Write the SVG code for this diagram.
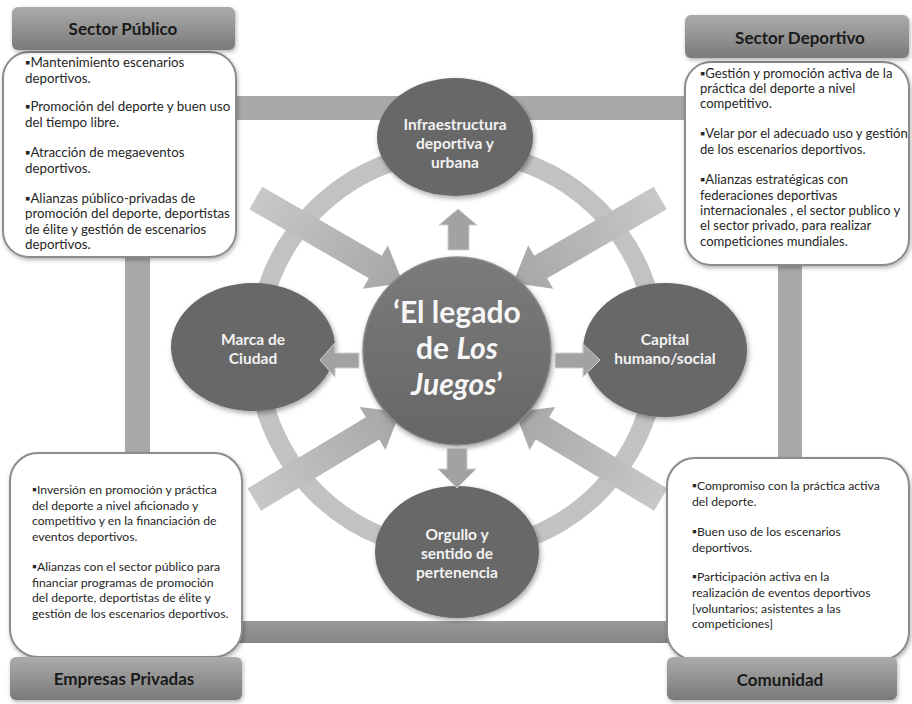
<svg xmlns="http://www.w3.org/2000/svg" width="912" height="704" viewBox="0 0 912 704" xml:space="preserve">
<style>
.body{font-family:Lato,"Liberation Sans",sans-serif;font-size:12.6px;fill:#262626}
.tl{font-size:13.3px}
.tr{font-size:13.1px}
.bl{font-size:12.2px}
.br{font-size:12.2px}
.hdr{font-family:Lato,"Liberation Sans",sans-serif;font-size:17px;font-weight:bold;fill:#1a1a1a;text-anchor:middle}
.sat{font-family:Lato,"Liberation Sans",sans-serif;font-size:15.5px;font-weight:bold;fill:#f2f2f2;text-anchor:middle}
.ctr{font-family:Lato,"Liberation Sans",sans-serif;font-size:30px;font-weight:bold;fill:#f7f7f7;text-anchor:middle}
.box{fill:#ffffff;stroke:#8c8c8c;stroke-width:2}
.hbox{fill:url(#hg)}
.ell{fill:#676767}
.sarr{fill:#a2a2a2;stroke:#cfcfcf;stroke-width:1}
.barr{fill:url(#ag)}
.bar{fill:#a9a9a9}
</style>
<defs>
<linearGradient id="hg" x1="0" y1="0" x2="0" y2="1">
<stop offset="0" stop-color="#ababab"/>
<stop offset="1" stop-color="#7a7a7a"/>
</linearGradient>
<linearGradient id="cg" x1="0" y1="0" x2="0" y2="1">
<stop offset="0" stop-color="#7b7b7b"/>
<stop offset="1" stop-color="#666666"/>
</linearGradient>
<linearGradient id="ag" x1="0" y1="0" x2="1" y2="0">
<stop offset="0" stop-color="#c8c8c8"/>
<stop offset="1" stop-color="#a6a6a6"/>
</linearGradient>
<linearGradient id="bg" x1="0" y1="0" x2="0" y2="1">
<stop offset="0" stop-color="#9a9a9a"/>
<stop offset="1" stop-color="#858585"/>
</linearGradient>
<filter id="sh" x="-20%" y="-20%" width="140%" height="140%">
<feDropShadow dx="1.5" dy="2.5" stdDeviation="2.5" flood-color="#000" flood-opacity="0.35"/>
</filter>
<filter id="sh2" x="-20%" y="-20%" width="140%" height="140%">
<feDropShadow dx="1" dy="2" stdDeviation="2" flood-color="#000" flood-opacity="0.3"/>
</filter>
</defs>
<rect width="912" height="704" fill="#ffffff"/>

<g id="connectors">
<g id="frame">
<rect class="bar" x="140" y="96" width="650" height="24"/>
<rect class="bar" x="125" y="110" width="25" height="520"/>
<rect class="bar" x="778" y="110" width="24" height="520"/>
<rect x="125" y="621" width="677" height="22" fill="url(#bg)"/>
</g>
<circle cx="457" cy="351" r="200" fill="none" stroke="#c2c2c2" stroke-width="19"/>
<g id="big-arrows">
<polygon class="barr" transform="translate(403,283) rotate(30)" points="-170,-13 -32,-13 -32,-25 0,0 -32,25 -32,13 -170,13"/>
<polygon class="barr" transform="translate(513,283) rotate(150)" points="-170,-13 -32,-13 -32,-25 0,0 -32,25 -32,13 -170,13"/>
<polygon class="barr" transform="translate(400,412) rotate(-31)" points="-170,-13 -32,-13 -32,-25 0,0 -32,25 -32,13 -170,13"/>
<polygon class="barr" transform="translate(515,412) rotate(-149)" points="-170,-13 -32,-13 -32,-25 0,0 -32,25 -32,13 -170,13"/>
</g>
</g>

<g id="infraestructura">
<ellipse class="ell" cx="455" cy="137" rx="78" ry="59" filter="url(#sh)"/>
<text class="sat" x="455" y="130">Infraestructura</text>
<text class="sat" x="455" y="149">deportiva y</text>
<text class="sat" x="455" y="168">urbana</text>
</g>
<g id="marca">
<ellipse class="ell" cx="253" cy="347" rx="82" ry="64" filter="url(#sh)"/>
<text class="sat" x="253" y="345">Marca de</text>
<text class="sat" x="253" y="364">Ciudad</text>
</g>
<g id="capital">
<ellipse class="ell" cx="665" cy="350" rx="82" ry="67" filter="url(#sh)"/>
<text class="sat" x="665" y="345">Capital</text>
<text class="sat" x="665" y="364">humano/social</text>
</g>
<g id="orgullo">
<ellipse class="ell" cx="457" cy="552" rx="82" ry="66" filter="url(#sh)"/>
<text class="sat" x="457" y="540">Orgullo y</text>
<text class="sat" x="457" y="559">sentido de</text>
<text class="sat" x="457" y="578">pertenencia</text>
</g>
<g id="legado">
<circle cx="457" cy="351" r="94" fill="url(#cg)" stroke="#8a8a8a" stroke-width="1.5" filter="url(#sh)"/>
<text class="ctr" x="457" y="323">‘El legado</text>
<text class="ctr" x="457" y="359">de <tspan font-style="italic">Los</tspan></text>
<text class="ctr" x="457" y="395"><tspan font-style="italic">Juegos</tspan>’</text>
</g>

<g id="small-arrows">
<polygon class="sarr" points="448,250 448,225 439,225 458,209 477,225 469,225 469,250"/>
<polygon class="sarr" points="359,353 335,353 335,343 320,360 335,377 335,368 359,368"/>
<polygon class="sarr" points="555,353 583,353 583,344 600,360 583,377 583,368 555,368"/>
<polygon class="sarr" points="447,448 467,448 467,469 476,469 457,488 438,469 447,469"/>
</g>

<g id="sector-publico">
<rect class="box" x="3" y="52" width="233" height="205" rx="26" filter="url(#sh2)"/>
<rect class="hbox" x="12" y="7" width="223" height="43" rx="6" filter="url(#sh2)"/>
<text class="hdr" x="123" y="35">Sector Público</text>
<text class="body tl" x="25" y="67">▪Mantenimiento escenarios</text>
<text class="body tl" x="25" y="83">deportivos.</text>
<text class="body tl" x="25" y="111">▪Promoción del deporte y buen uso</text>
<text class="body tl" x="25" y="127">del tiempo libre.</text>
<text class="body tl" x="25" y="157">▪Atracción de megaeventos</text>
<text class="body tl" x="25" y="173">deportivos.</text>
<text class="body tl" x="25" y="203">▪Alianzas  público-privadas de</text>
<text class="body tl" x="25" y="218">promoción del deporte, deportistas</text>
<text class="body tl" x="25" y="234">de élite y gestión de escenarios</text>
<text class="body tl" x="25" y="249">deportivos.</text>
</g>

<g id="sector-deportivo">
<rect class="box" x="685" y="62" width="224" height="203" rx="26" filter="url(#sh2)"/>
<rect class="hbox" x="685" y="15" width="224" height="43" rx="6" filter="url(#sh2)"/>
<text class="hdr" x="800" y="44">Sector Deportivo</text>
<text class="body tr" x="700" y="78">▪Gestión y promoción activa de la</text>
<text class="body tr" x="700" y="93">práctica del deporte a nivel</text>
<text class="body tr" x="700" y="108">competitivo.</text>
<text class="body tr" x="700" y="138">▪Velar por el adecuado uso y gestión</text>
<text class="body tr" x="700" y="154">de los escenarios deportivos.</text>
<text class="body tr" x="700" y="184">▪Alianzas  estratégicas  con</text>
<text class="body tr" x="700" y="200">federaciones deportivas</text>
<text class="body tr" x="700" y="215">internacionales , el sector publico y</text>
<text class="body tr" x="700" y="230">el sector  privado, para realizar</text>
<text class="body tr" x="700" y="246">competiciones mundiales.</text>
</g>

<g id="empresas-privadas">
<rect class="box" x="10" y="453" width="232" height="204" rx="28" filter="url(#sh2)"/>
<rect class="hbox" x="10" y="657" width="232" height="43" rx="6" filter="url(#sh2)"/>
<text class="hdr" x="124" y="685">Empresas Privadas</text>
<text class="body bl" x="32" y="494">▪Inversión en  promoción y práctica</text>
<text class="body bl" x="32" y="510">del deporte a nivel aficionado y</text>
<text class="body bl" x="32" y="525">competitivo y en la financiación de</text>
<text class="body bl" x="32" y="541">eventos deportivos.</text>
<text class="body bl" x="32" y="571">▪Alianzas con el sector público para</text>
<text class="body bl" x="32" y="587">financiar programas de promoción</text>
<text class="body bl" x="32" y="602">del deporte, deportistas de élite y</text>
<text class="body bl" x="32" y="618">gestión de los escenarios deportivos.</text>
</g>

<g id="comunidad">
<rect class="box" x="667" y="458" width="242" height="202" rx="28" filter="url(#sh2)"/>
<rect class="hbox" x="667" y="657" width="230" height="43" rx="6" filter="url(#sh2)"/>
<text class="hdr" x="780" y="686">Comunidad</text>
<text class="body br" x="692" y="490">▪Compromiso con la práctica activa</text>
<text class="body br" x="692" y="506">del deporte.</text>
<text class="body br" x="692" y="536">▪Buen uso de los escenarios</text>
<text class="body br" x="692" y="552">deportivos.</text>
<text class="body br" x="692" y="581">▪Participación activa en la</text>
<text class="body br" x="692" y="597">realización de eventos deportivos</text>
<text class="body br" x="692" y="613">[voluntarios; asistentes a las</text>
<text class="body br" x="692" y="628">competiciones]</text>
</g>
</svg>
